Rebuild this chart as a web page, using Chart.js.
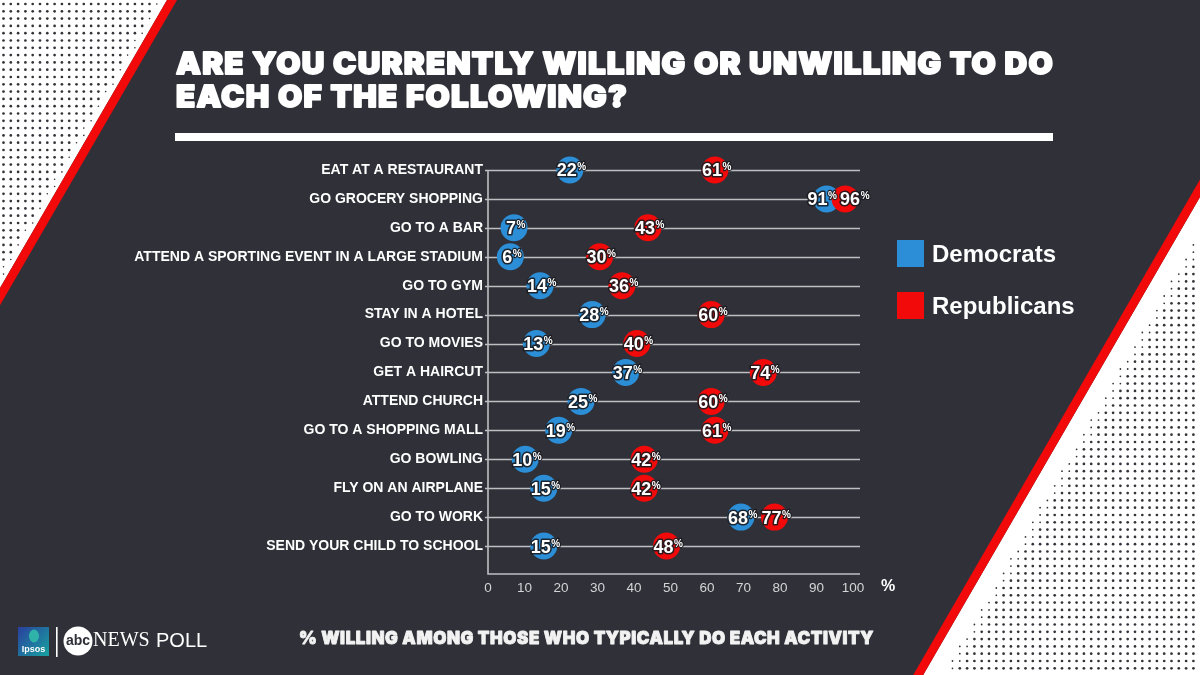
<!DOCTYPE html>
<html><head><meta charset="utf-8">
<script src="https://cdn.jsdelivr.net/npm/chart.js@4.4.1/dist/chart.umd.min.js"></script>
<style>html,body{margin:0;padding:0;background:#2f3038;overflow:hidden}#wrap{position:relative;width:1200px;height:675px}canvas{display:block}</style>
</head><body><div id="wrap"><canvas id="c" width="1200" height="675"></canvas></div>
<script>
const titleLines = ["ARE YOU CURRENTLY WILLING OR UNWILLING TO DO", "EACH OF THE FOLLOWING?"];
const caption = "% WILLING AMONG THOSE WHO TYPICALLY DO EACH ACTIVITY";
const categories = ["EAT AT A RESTAURANT","GO GROCERY SHOPPING","GO TO A BAR","ATTEND A SPORTING EVENT IN A LARGE STADIUM","GO TO GYM","STAY IN A HOTEL","GO TO MOVIES","GET A HAIRCUT","ATTEND CHURCH","GO TO A SHOPPING MALL","GO BOWLING","FLY ON AN AIRPLANE","GO TO WORK","SEND YOUR CHILD TO SCHOOL"];
const seriesNames = ["Democrats","Republicans"];
const democrats = [22,91,7,6,14,28,13,37,25,19,10,15,68,15];
const republicans = [61,96,43,30,36,60,40,74,60,61,42,42,77,48];
const xTickValues = [0,10,20,30,40,50,60,70,80,90,100];
const axisUnit = "%";

const BLUE = "#2b8ed6", RED = "#f20a0a", BG = "#2f3038";
const HEAVY_FAMILY = "Inter, Roboto, 'Liberation Sans', sans-serif";

function drawDots(ctx, test) {
  ctx.fillStyle = "#333339";
  for (let y = 4; y < 675; y += 7.3) {
    for (let x = 3.5; x < 1200; x += 7.3) {
      const a = test(x, y);
      if (a > 0) { ctx.beginPath(); ctx.arc(x, y, 1.35 * a, 0, Math.PI * 2); ctx.fill(); }
    }
  }
}

function heavyText(ctx, txt, x, y, sx, stroke) {
  ctx.save(); ctx.translate(x, y); ctx.scale(sx, 1);
  ctx.lineJoin = "round"; ctx.lineWidth = stroke; ctx.strokeStyle = ctx.fillStyle;
  ctx.strokeText(txt, 0, 0); ctx.fillText(txt, 0, 0);
  ctx.restore();
}

const decor = {
  id: "decor",
  beforeDraw(chart) {
    const ctx = chart.ctx;
    ctx.save();
    ctx.fillStyle = BG; ctx.fillRect(0, 0, 1200, 675);
    // left corner
    const lc = y => 172 - 0.58 * y;
    ctx.fillStyle = "#ffffff";
    ctx.beginPath(); ctx.moveTo(0, 0); ctx.lineTo(lc(0) - 5, 0); ctx.lineTo(0, (172 - 5) / 0.58); ctx.closePath(); ctx.fill();
    ctx.fillStyle = RED;
    ctx.beginPath(); ctx.moveTo(lc(0) - 5, 0); ctx.lineTo(lc(0) + 5, 0); ctx.lineTo(0, (172 + 5) / 0.58); ctx.lineTo(0, (172 - 5) / 0.58); ctx.closePath(); ctx.fill();
    drawDots(ctx, (x, y) => { const d = (lc(y) - 5) - x; return d > 9 ? 1 : (d > 4 ? 0.6 : 0); });
    // right corner
    const rc = y => 1309 - 0.579 * y;
    ctx.fillStyle = "#ffffff";
    ctx.beginPath(); ctx.moveTo(1200, (1309 - 1195) / 0.579); ctx.lineTo(1200, 675); ctx.lineTo(rc(675) + 5, 675); ctx.closePath(); ctx.fill();
    ctx.fillStyle = RED;
    ctx.beginPath(); ctx.moveTo(1200, (1309 - 1205) / 0.579); ctx.lineTo(1200, (1309 - 1195) / 0.579); ctx.lineTo(rc(675) + 5, 675); ctx.lineTo(rc(675) - 5, 675); ctx.closePath(); ctx.fill();
    drawDots(ctx, (x, y) => { const d = x - (rc(y) + 5); return d > 30 ? 1 : (d > 20 ? 0.65 : 0); });

    // title
    ctx.fillStyle = "#ffffff";
    ctx.font = "900 30px " + HEAVY_FAMILY;
    ctx.letterSpacing = "1.2px";
    ctx.textBaseline = "alphabetic"; ctx.textAlign = "left";
    const w1 = ctx.measureText(titleLines[0]).width;
    const sx = 878 / w1;
    heavyText(ctx, titleLines[0], 176, 74, sx, 1.8);
    heavyText(ctx, titleLines[1], 176, 107, sx, 1.8);
    ctx.letterSpacing = "0px";
    ctx.fillRect(175, 133, 878, 8);

    // caption
    ctx.font = "900 17.5px " + HEAVY_FAMILY;
    ctx.letterSpacing = "0.6px";
    ctx.fillStyle = "#f2f2f2";
    const wc = ctx.measureText(caption).width;
    heavyText(ctx, caption, 299, 644, 575 / wc, 0.9);
    ctx.letterSpacing = "0px";

    // legend
    const legColors = [BLUE, RED];
    ctx.font = "bold 24px 'Liberation Sans', Arial, sans-serif";
    ctx.textBaseline = "middle";
    [240, 292].forEach((y, i) => {
      ctx.fillStyle = legColors[i]; ctx.fillRect(897, y, 27, 27);
      ctx.fillStyle = "#ffffff"; ctx.fillText(seriesNames[i], 932, y + 15);
    });

    // logo
    const g = ctx.createLinearGradient(18, 627, 49, 656);
    g.addColorStop(0, "#2a3f9e"); g.addColorStop(1, "#17a3a0");
    ctx.fillStyle = g; ctx.fillRect(18, 627, 31, 29);
    ctx.fillStyle = "#2fb3a8";
    ctx.beginPath(); ctx.ellipse(34, 636, 5, 6.5, 0, 0, Math.PI * 2); ctx.fill();
    ctx.fillStyle = "#ffffff"; ctx.font = "bold 9px 'Liberation Sans', Arial, sans-serif"; ctx.textAlign = "center";
    ctx.fillText("Ipsos", 33.5, 650);
    ctx.fillRect(56, 627, 1.6, 30);
    ctx.beginPath(); ctx.arc(78, 641, 14.5, 0, Math.PI * 2); ctx.fill();
    ctx.fillStyle = BG; ctx.font = "bold 14px 'Liberation Sans', Arial, sans-serif";
    ctx.fillText("abc", 78, 641);
    ctx.fillStyle = "#ffffff"; ctx.textAlign = "left";
    ctx.font = "20px 'Liberation Serif', 'DejaVu Serif', serif";
    ctx.fillText("NEWS", 93, 641);
    ctx.font = "20px 'Liberation Sans', Arial, sans-serif";
    ctx.fillText("POLL", 156, 641);

    // axis unit
    ctx.font = "bold 16px 'Liberation Sans', Arial, sans-serif"; ctx.textAlign = "center";
    ctx.fillText(axisUnit, 888, 587);
    ctx.restore();
  },
  beforeDatasetsDraw(chart) {
    const ctx = chart.ctx, ys = chart.scales.y, a = chart.chartArea;
    ctx.save();
    ctx.strokeStyle = "#bfbfc2"; ctx.lineWidth = 1.6;
    const yFirst = ys.getPixelForValue(0);
    const yBottom = 574;
    categories.forEach((c, i) => {
      const y = Math.round(ys.getPixelForValue(i)) + 0.5;
      ctx.beginPath(); ctx.moveTo(a.left - 3, y); ctx.lineTo(a.right, y); ctx.stroke();
    });
    ctx.beginPath(); ctx.moveTo(a.left, yFirst); ctx.lineTo(a.left, yBottom); ctx.lineTo(a.right, yBottom); ctx.stroke();
    ctx.restore();
  },
  afterDatasetsDraw(chart) {
    const ctx = chart.ctx;
    ctx.save();
    ctx.textBaseline = "alphabetic"; ctx.textAlign = "left";
    const m0 = chart.getDatasetMeta(0), m1 = chart.getDatasetMeta(1);
    [0, 1].forEach(di => {
      const meta = chart.getDatasetMeta(di);
      const vals = chart.data.datasets[di].data;
      meta.data.forEach((pt, i) => {
        const num = String(vals[i]);
        // push labels apart when the two circles of a row nearly touch
        const gap = Math.abs(m1.data[i].x - m0.data[i].x);
        const nudge = gap < 26 ? (di === 0 ? -6 : 8) : 0;
        ctx.font = "bold 18px 'Liberation Sans', Arial, sans-serif";
        const wn = ctx.measureText(num).width;
        const x0 = pt.x - wn / 2 - 3 + nudge, base = pt.y + 6.5;
        ctx.lineJoin = "round"; ctx.strokeStyle = "rgba(25,25,30,0.9)"; ctx.lineWidth = 3.2;
        ctx.strokeText(num, x0, base); ctx.fillStyle = "#ffffff"; ctx.fillText(num, x0, base);
        ctx.font = "bold 10px 'Liberation Sans', Arial, sans-serif";
        ctx.lineWidth = 2.4;
        ctx.strokeText("%", x0 + wn + 0.5, base - 6); ctx.fillText("%", x0 + wn + 0.5, base - 6);
      });
    });
    ctx.restore();
  }
};

new Chart(document.getElementById("c"), {
  type: "line",
  data: {
    labels: categories,
    datasets: [
      { label: seriesNames[0], data: democrats, showLine: false, pointRadius: 13.5, pointHoverRadius: 13.5, pointBackgroundColor: BLUE, pointBorderWidth: 0, order: 1, clip: false, xAxisID: "x" },
      { label: seriesNames[1], data: republicans, showLine: false, pointRadius: 13.5, pointHoverRadius: 13.5, pointBackgroundColor: RED, pointBorderWidth: 0, order: 0, clip: false, xAxisID: "x" }
    ]
  },
  options: {
    responsive: false, animation: false, indexAxis: "y",
    layout: { padding: { top: 155.5, left: 0, right: 340, bottom: 74.5 } },
    plugins: { legend: { display: false }, tooltip: { enabled: false }, title: { display: false } },
    scales: {
      y: {
        type: "category", offset: true,
        grid: { display: false, drawTicks: false }, border: { display: false },
        ticks: { color: "#ffffff", padding: 5, autoSkip: false, font: { family: "'Liberation Sans', Arial, sans-serif", size: 14, weight: "bold" } },
        afterFit: s => { s.width = 488; }
      },
      x: {
        type: "linear", min: 0, max: 100, display: false
      },
      xLabels: {
        type: "linear", position: "bottom", min: 0, max: 101.9,
        grid: { display: false, drawTicks: false }, border: { display: false },
        afterBuildTicks: s => { s.ticks = xTickValues.map(v => ({ value: v })); },
        ticks: { color: "#d4d4d6", padding: 20, font: { family: "'Liberation Sans', Arial, sans-serif", size: 13.5 } },
        afterFit: s => { s.height = 40; }
      }
    }
  },
  plugins: [decor]
});
</script>
</body></html>
